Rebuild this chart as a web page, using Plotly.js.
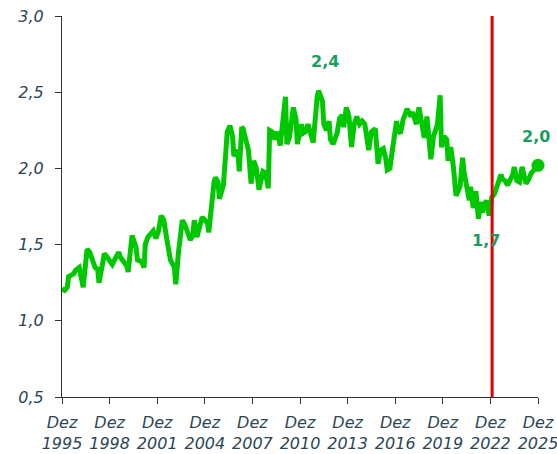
<!DOCTYPE html>
<html>
<head>
<meta charset="utf-8">
<script src="https://cdn.plot.ly/plotly-3.0.1.min.js"></script>
<style>html,body{margin:0;padding:0;background:#fff;}#chart{width:557px;height:454px;}</style>
</head>
<body>
<div id="chart"></div>
<script>
// Series (monthly samples)
const dates = [
"1995-12","1996-02","1996-04","1996-05","1996-07","1996-09","1996-10","1997-01","1997-04","1997-06",
"1997-07","1997-09","1997-11","1998-01","1998-03","1998-04","1998-07","1998-08","1998-10","1999-01",
"1999-02","1999-05","1999-07","1999-08","1999-10","2000-01","2000-02","2000-05","2000-08","2000-09",
"2000-12","2001-02","2001-03","2001-05","2001-08","2001-09","2001-11","2002-01","2002-03","2002-05",
"2002-07","2002-10","2003-01","2003-02","2003-04","2003-06","2003-07","2003-09","2003-11","2004-01",
"2004-03","2004-04","2004-06","2004-07","2004-10","2004-12","2005-02","2005-03","2005-05","2005-07",
"2005-08","2005-10","2005-11","2006-01","2006-02","2006-04","2006-05","2006-07","2006-09","2006-10",
"2007-01","2007-02","2007-04","2007-05","2007-07","2007-09","2007-11","2008-01","2008-03","2008-05",
"2008-08","2008-10","2008-12","2009-01","2009-03","2009-05","2009-07","2009-09","2010-01","2010-02",
"2010-04","2010-07","2010-09","2010-10","2011-01","2011-02","2011-04","2011-06","2011-08","2011-10",
"2012-01","2012-02","2012-05","2012-06","2012-08","2012-10","2012-11","2013-01","2013-04","2013-06",
"2013-08","2013-09","2013-11","2014-01","2014-03","2014-05","2014-07","2014-09","2014-11","2015-01",
"2015-02","2015-04","2015-06","2015-09","2015-11","2016-01","2016-03","2016-05","2016-06","2016-08",
"2016-10","2017-01","2017-02","2017-04","2017-06","2017-08","2017-09","2017-12","2018-01","2018-03",
"2018-04","2018-06","2018-08","2018-10","2018-12","2019-01","2019-03","2019-05","2019-08","2019-10",
"2019-11","2020-01","2020-03","2020-04","2020-06","2020-08","2020-10","2021-01","2021-03","2021-04",
"2021-06","2021-08","2021-09","2021-11","2022-01","2022-03","2022-05","2022-06","2022-07","2022-09",
"2022-11","2023-01","2023-03","2023-05","2023-08","2023-09","2023-11","2024-01","2024-03","2024-05",
"2024-06","2024-08","2024-10","2024-12","2025-01","2025-03","2025-05","2025-07","2025-09","2025-11",
"2025-12"
];
const values = [
1.21,1.20,1.22,1.29,1.30,1.31,1.33,1.35,1.22,1.42,
1.47,1.45,1.41,1.35,1.34,1.25,1.39,1.44,1.42,1.39,
1.37,1.42,1.45,1.42,1.39,1.36,1.32,1.56,1.48,1.40,
1.39,1.35,1.50,1.55,1.58,1.59,1.54,1.59,1.69,1.66,
1.55,1.40,1.35,1.24,1.44,1.59,1.66,1.63,1.58,1.53,
1.56,1.66,1.55,1.58,1.68,1.66,1.64,1.58,1.77,1.91,
1.94,1.91,1.80,1.88,1.89,2.12,2.24,2.28,2.21,2.08,
2.12,1.98,2.27,2.26,2.17,2.12,1.90,2.05,2.00,1.86,
1.98,1.97,1.87,2.25,2.24,2.19,2.24,2.15,2.47,2.16,
2.20,2.40,2.32,2.16,2.29,2.23,2.24,2.29,2.23,2.17,
2.47,2.51,2.44,2.29,2.25,2.31,2.19,2.16,2.23,2.33,
2.35,2.27,2.40,2.34,2.14,2.29,2.34,2.29,2.31,2.29,
2.23,2.12,2.24,2.26,2.03,2.12,2.13,2.06,1.99,2.00,
2.13,2.31,2.25,2.23,2.32,2.38,2.39,2.34,2.37,2.32,
2.29,2.40,2.31,2.20,2.34,2.22,2.06,2.21,2.29,2.48,
2.14,2.21,2.19,2.05,2.14,2.01,1.82,1.88,2.07,1.98,
1.86,1.79,1.88,1.74,1.85,1.67,1.78,1.71,1.75,1.79,
1.69,1.81,1.83,1.89,1.96,1.93,1.92,1.89,1.92,1.96,
2.01,1.92,1.91,2.01,1.97,1.90,1.93,1.97,1.99,2.03,
2.02
];
// Tick labels
const tickDates = ["1995-12-01","1998-12-01","2001-12-01","2004-12-01","2007-12-01","2010-12-01","2013-12-01","2016-12-01","2019-12-01","2022-12-01","2025-12-01"];
const tickYears = ["1995","1998","2001","2004","2007","2010","2013","2016","2019","2022","2025"];
const monthLabel = "Dez";
// Marker line date and value labels
const breakDate = "2023-01-10";
const labelTexts = ["2,4","1,7","2,0"];
const labelDates = ["2012-07-01","2022-08-15","2025-10-15"];
const labelValues = [2.70, 1.53, 2.21];

const green = "#00c800";
const labelGreen = "#1a9e5f";
const axisText = "#2b4655";
const fontFam = "DejaVu Sans, Verdana, sans-serif";

const traces = [
  {x: dates, y: values, type: "scatter", mode: "lines",
   line: {color: green, width: 5}, hoverinfo: "skip"},
  {x: [dates[dates.length-1]], y: [values[values.length-1]], type: "scatter", mode: "markers",
   marker: {color: green, size: 13}, cliponaxis: false, hoverinfo: "skip"}
];

const layout = {
  width: 557, height: 454,
  margin: {l: 62, r: 19, t: 16, b: 57},
  paper_bgcolor: "#fff", plot_bgcolor: "#fff",
  showlegend: false,
  separators: ",.",
  font: {family: fontFam},
  xaxis: {
    type: "date",
    range: ["1995-12-01", "2025-12-01"],
    tickmode: "array",
    tickvals: tickDates,
    ticktext: tickYears.map(y => monthLabel + "<br>" + y),
    ticks: "outside", ticklen: 6, tickcolor: "#333", tickwidth: 1,
    ticklabelstandoff: 5,
    ticklabeloverflow: "allow",
    showline: true, linecolor: "#333", linewidth: 1,
    showgrid: false, zeroline: false,
    tickfont: {family: fontFam, size: 16, color: axisText, style: "italic"}
  },
  yaxis: {
    range: [0.5, 3.0],
    tickvals: [0.5, 1.0, 1.5, 2.0, 2.5, 3.0],
    tickformat: ".1f",
    ticks: "outside", ticklen: 6, tickcolor: "#333", tickwidth: 1,
    ticklabelstandoff: 8,
    showline: true, linecolor: "#333", linewidth: 1,
    showgrid: false, zeroline: false,
    tickfont: {family: fontFam, size: 16, color: axisText, style: "italic"}
  },
  shapes: [
    {type: "line", xref: "x", yref: "paper", x0: breakDate, x1: breakDate, y0: 0, y1: 1,
     line: {color: "#e00000", width: 3}}
  ],
  annotations: labelTexts.map((t, i) => ({
    x: labelDates[i], y: labelValues[i], xref: "x", yref: "y",
    text: "<b>" + t + "</b>", showarrow: false,
    font: {family: fontFam, size: 16, color: labelGreen}
  }))
};

Plotly.newPlot("chart", traces, layout, {displayModeBar: false, staticPlot: true});
</script>
</body>
</html>
